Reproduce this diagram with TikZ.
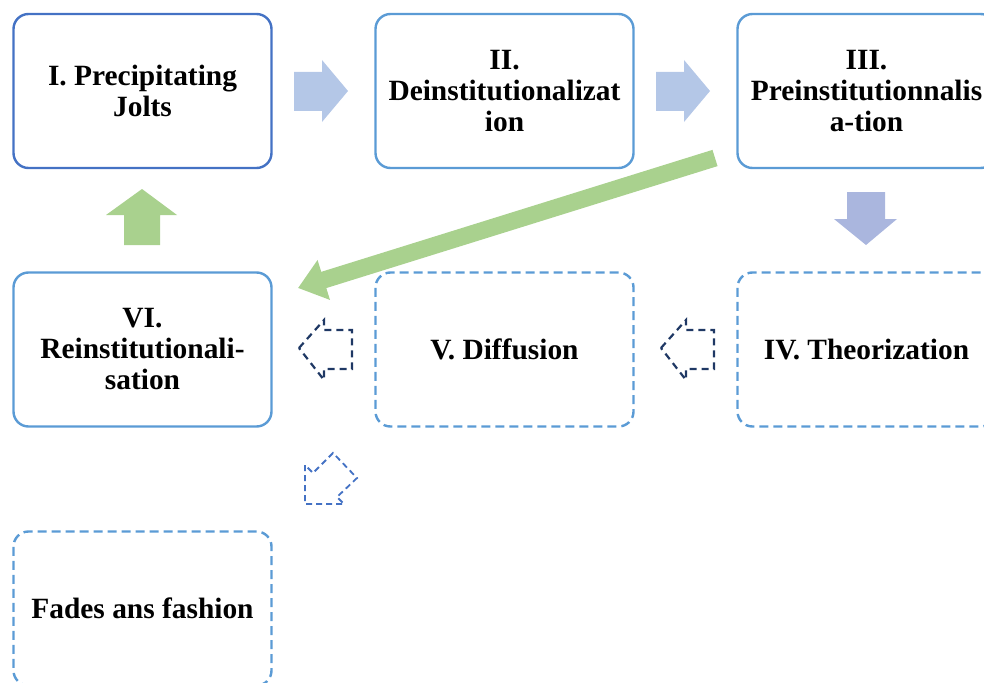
\documentclass[tikz,border=0pt]{standalone}
\usepackage{fontspec}
\setmainfont{Liberation Serif}
\usetikzlibrary{arrows.meta}

\definecolor{boxblue}{RGB}{91,155,213}
\definecolor{boxdark}{RGB}{68,114,196}
\definecolor{arrblue}{RGB}{180,199,231}
\definecolor{arrlilac}{RGB}{170,182,222}
\definecolor{arrgreen}{RGB}{169,209,142}
\definecolor{navyline}{RGB}{31,56,100}

\tikzset{
  stage/.style={draw=boxblue, line width=2.4pt, rounded corners=15pt,
    minimum width=258pt, minimum height=154pt, inner sep=0pt, align=center,
    font=\bfseries\fontsize{29.4pt}{31pt}\selectfont},
  stagedash/.style={stage, dash pattern=on 9pt off 5pt},
  outarrow/.style={draw=navyline, line width=2.2pt, dash pattern=on 7pt off 5pt, line join=miter},
}

\begin{document}
\begin{tikzpicture}[x=1pt,y=-1pt]
\useasboundingbox (0,0) rectangle (984,682);
\clip (0,0) rectangle (984,682);

% stages
\node[stage, draw=boxdark] (jolts) at (142.5,91) {I. Precipitating\\Jolts};
\node[stage] (deinst) at (504.5,91) {II.\\Deinstitutionalizat\\ion};
\node[stage] (preinst) at (866.5,91) {III.\\Preinstitutionnalis\\a-tion};
\node[stagedash] (theor) at (866.5,349.5) {IV. Theorization};
\node[stagedash] (diff) at (504.5,349.5) {V. Diffusion};
\node[stage] (reinst) at (142.5,349.5) {VI.\\Reinstitutionali-\\sation};
\node[stagedash] (fades) at (142.5,608.5) {Fades ans fashion};

% block arrows
\fill[arrblue] (294,72) -- (322,72) -- (322,60) -- (348,91) -- (322,122) -- (322,111) -- (294,111) -- cycle;
\fill[arrblue] (656,72) -- (684,72) -- (684,60) -- (710,91) -- (684,122) -- (684,111) -- (656,111) -- cycle;
\fill[arrlilac] (847,192) -- (885,192) -- (885,219) -- (897,219) -- (866,245) -- (834,219) -- (847,219) -- cycle;
\fill[arrgreen] (124,245) -- (160,245) -- (160,215) -- (177,215) -- (142,189) -- (106,215) -- (124,215) -- cycle;

% dashed outline arrows
\draw[outarrow] (299,348) -- (324,320) -- (324,330) -- (352,330) -- (352,369) -- (324,369) -- (324,380) -- cycle;
\draw[outarrow] (661,348) -- (686,320) -- (686,330) -- (714,330) -- (714,369) -- (686,369) -- (686,380) -- cycle;
\draw[outarrow, draw=boxdark, line width=1.8pt, dash pattern=on 6pt off 4pt]
  (305,465) -- (305,504) -- (344,504) -- (337,497) -- (357,478) -- (333,453) -- (313,473) -- cycle;

% long green arrow
\coordinate (gstart) at (715,158);
\coordinate (gend) at (298,288);
\draw[arrgreen, line width=17pt, -{Triangle[length=27pt,width=40pt]}] (gstart) -- (gend);
\end{tikzpicture}
\end{document}
